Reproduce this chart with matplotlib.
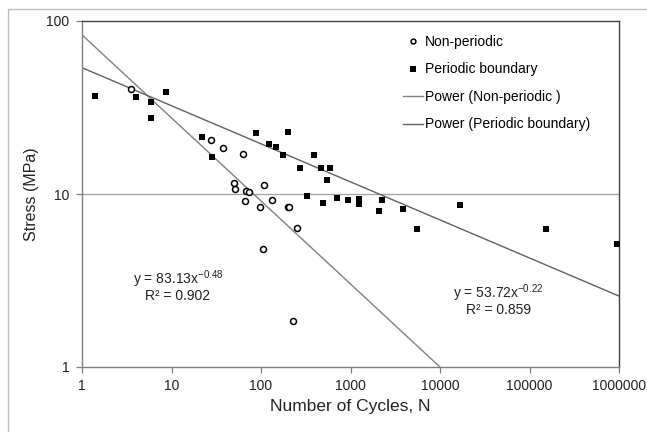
import matplotlib
matplotlib.use("Agg")
import matplotlib.pyplot as plt
import matplotlib.ticker as mticker
import numpy as np
from matplotlib.patches import Rectangle

plt.rcParams['font.family'] = ['Liberation Sans', 'DejaVu Sans']
plt.rcParams['mathtext.fontset'] = 'custom'
plt.rcParams['mathtext.rm'] = 'Liberation Sans'
plt.rcParams['mathtext.it'] = 'Liberation Sans'

# Non-periodic data (cycles, stress MPa)
np_cycles = [3.5, 27.6, 37.6, 62.5, 49.9, 51.6, 68, 73.5, 109, 65.8, 96.7, 133,
             199, 207, 250, 105, 230]
np_stress = [40.6, 20.5, 18.4, 17.0, 11.5, 10.7, 10.4, 10.3, 11.2, 9.11, 8.45, 9.23,
             8.41, 8.41, 6.39, 4.83, 1.84]

# Periodic boundary data
pb_cycles = [1.41, 4.04, 5.9, 5.85, 8.75, 22.1, 28.6, 88, 122, 148, 176, 202, 271,
             391, 468, 590, 550, 329, 493, 713, 945, 1235, 1235, 2266, 2099, 3890,
             16900, 5490, 154000, 957000]
pb_stress = [37.0, 36.4, 34.0, 27.6, 38.9, 21.4, 16.4, 22.5, 19.4, 18.8, 16.8, 22.7, 14.2,
             16.7, 14.2, 14.2, 12.0, 9.7, 8.87, 9.52, 9.23, 9.3, 8.7, 9.23, 8.0, 8.19,
             8.64, 6.25, 6.25, 5.12]

# Power-law fits  y = a * x^b, with R²
np_fit = (83.13, -0.48, 0.902)
pb_fit = (53.72, -0.22, 0.859)

x_ticks = [1, 10, 100, 1000, 10000, 100000, 1000000]
x_ticklabels = ['1', '10', '100', '1000', '10000', '100000', '1000000']
y_ticks = [1, 10, 100]
y_ticklabels = ['1', '10', '100']

W, H = 647, 432
fig = plt.figure(figsize=(W / 100, H / 100), dpi=100)
ax = fig.add_axes([82 / W, (H - 367) / H, (619 - 82) / W, (367 - 21) / H])

# outer chart border
fig.patches.append(Rectangle((8 / W, -0.1), 1.2, (H - 9) / H + 0.1,
                             transform=fig.transFigure, fill=False,
                             edgecolor='#bdbdbd', linewidth=1.0, clip_on=False))

ax.set_xscale('log')
ax.set_yscale('log')
ax.set_xlim(1, 1e6)
ax.set_ylim(1, 100)

ax.axhline(10, color='#a0a0a0', linewidth=0.9, zorder=1)

xf = np.logspace(0, 6, 400)
ax.plot(xf, np_fit[0] * xf ** np_fit[1], color='#808080', linewidth=1.0,
        label='Power (Non-periodic )', zorder=2)
ax.plot(xf, pb_fit[0] * xf ** pb_fit[1], color='#606060', linewidth=1.0,
        label='Power (Periodic boundary)', zorder=2)

ax.plot(np_cycles, np_stress, linestyle='none', marker='o', markersize=4.3,
        markerfacecolor='white', markeredgecolor='black', markeredgewidth=1.1,
        label='Non-periodic', zorder=3, clip_on=False)
ax.plot(pb_cycles, pb_stress, linestyle='none', marker='s', markersize=5.0,
        markeredgewidth=0, color='black', label='Periodic boundary', zorder=3,
        clip_on=False)

ax.xaxis.set_major_locator(mticker.FixedLocator(x_ticks))
ax.xaxis.set_major_formatter(mticker.FixedFormatter(x_ticklabels))
ax.yaxis.set_major_locator(mticker.FixedLocator(y_ticks))
ax.yaxis.set_major_formatter(mticker.FixedFormatter(y_ticklabels))
ax.xaxis.set_minor_locator(mticker.NullLocator())
ax.yaxis.set_minor_locator(mticker.NullLocator())
ax.tick_params(axis='both', direction='out', length=4, width=0.9, color='#808080',
               labelsize=10, labelcolor='#222222', pad=5)

for s in ['left', 'bottom']:
    ax.spines[s].set_color('#808080')
    ax.spines[s].set_linewidth(1.0)
for s in ['top', 'right']:
    ax.spines[s].set_color('#404040')
    ax.spines[s].set_linewidth(1.0)

ax.set_xlabel('Number of Cycles, N', fontsize=12.5, color='#222222', labelpad=4)
ax.set_ylabel('Stress (MPa)', fontsize=11.5, color='#222222', labelpad=5)

handles, labels = ax.get_legend_handles_labels()
order = [2, 3, 0, 1]
leg = fig.legend([handles[i] for i in order], [labels[i] for i in order],
                 loc='upper left', bbox_to_anchor=(403 / W, (H - 35) / H),
                 frameon=False, fontsize=10, handlelength=1.45, handletextpad=0.15,
                 labelspacing=0.97, markerscale=0.8, borderpad=0, borderaxespad=0)

for (xc, yc, txt) in [(178, 279, 'y = %.2fx$^{%.2f}$' % (np_fit[0], np_fit[1])),
                      (178, 296, 'R² = %.3f' % np_fit[2]),
                      (498, 293, 'y = %.2fx$^{%.2f}$' % (pb_fit[0], pb_fit[1])),
                      (498, 310, 'R² = %.3f' % pb_fit[2])]:
    fig.text(xc / W, (H - yc) / H, txt, fontsize=10, color='#222222',
             ha='center', va='center')

fig.savefig('out.png', dpi=100)
